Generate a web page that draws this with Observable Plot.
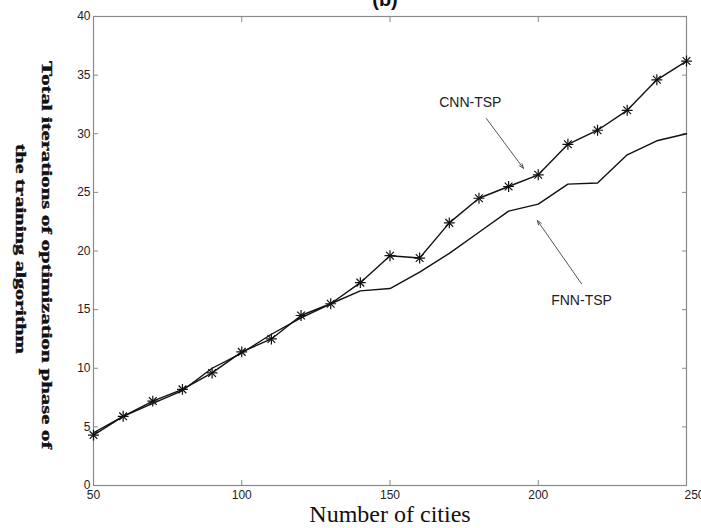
<!DOCTYPE html>
<html><head><meta charset="utf-8">
<script src="https://cdn.jsdelivr.net/npm/d3@7"></script>
<script src="https://cdn.jsdelivr.net/npm/@observablehq/plot@0.6"></script>
<style>body{margin:0;background:#fff;} svg{display:block}</style>
</head><body><div id="chart"></div>
<script>
const cities = [50,60,70,80,90,100,110,120,130,140,150,160,170,180,190,200,210,220,230,240,250];
const cnnTsp = [4.3,5.9,7.2,8.2,9.6,11.4,12.5,14.5,15.5,17.3,19.6,19.4,22.4,24.5,25.5,26.5,29.1,30.3,32.0,34.6,36.2];
const fnnTsp = [4.5,5.9,7.0,8.1,10.0,11.3,12.9,14.3,15.5,16.6,16.8,18.2,19.8,21.6,23.4,24.0,25.7,25.8,28.2,29.4,30.0];
const xTicks = [50,100,150,200,250];
const yTicks = [0,5,10,15,20,25,30,35,40];
const seriesNames = ["CNN-TSP","FNN-TSP"];
const labelX = [177.1, 214.6];
const labelY = [32.7, 15.8];
const arrowFromX = [182.5, 214.6];
const arrowFromY = [31.3, 17.2];
const arrowToX = [195.0, 199.7];
const arrowToY = [27.05, 22.6];
const yLabelLines = ["Total iterations of optimization phase of", "the training algorithm"];
const xLabel = "Number of cities";
const title = "(b)";

const cnnRows = cities.map((c, i) => ({x: c, y: cnnTsp[i]}));
const fnnRows = cities.map((c, i) => ({x: c, y: fnnTsp[i]}));
const notes = seriesNames.map((n, i) => ({name: n, x: labelX[i], y: labelY[i], x1: arrowFromX[i], y1: arrowFromY[i], x2: arrowToX[i], y2: arrowToY[i]}));

const frameColor = "#8a8a8a";
const serif = "'Liberation Serif', 'Times New Roman', serif";
const plot = Plot.plot({
  width: 701, height: 528,
  marginLeft: 93, marginRight: 15, marginTop: 16, marginBottom: 43,
  x: {domain: [50, 250]},
  y: {domain: [0, 40]},
  style: {fontFamily: "'Liberation Sans', Arial, sans-serif", fontSize: "12px", color: "#222", background: "#fff", overflow: "hidden"},
  marks: [
    Plot.frame({stroke: frameColor, strokeWidth: 1.2}),
    Plot.axisX({anchor: "bottom", ticks: xTicks, tickSize: -5, tickPadding: 10, label: null, stroke: frameColor, fill: "#222"}),
    Plot.axisX({anchor: "top", ticks: xTicks, tickSize: -5, tickFormat: () => "", label: null, stroke: frameColor}),
    Plot.axisY({anchor: "left", ticks: yTicks, tickSize: -5, tickPadding: 8, label: null, stroke: frameColor, fill: "#222"}),
    Plot.axisY({anchor: "right", ticks: yTicks, tickSize: -5, tickFormat: () => "", label: null, stroke: frameColor}),
    Plot.line(fnnRows, {x: "x", y: "y", stroke: "#111", strokeWidth: 1.4}),
    Plot.line(cnnRows, {x: "x", y: "y", stroke: "#111", strokeWidth: 1.4}),
    Plot.dot(cnnRows, {x: "x", y: "y", symbol: "plus", r: 3.6, stroke: "#111", strokeWidth: 1.2}),
    Plot.dot(cnnRows, {x: "x", y: "y", symbol: "times", r: 3.6, stroke: "#111", strokeWidth: 1.2}),
    Plot.arrow(notes, {x1: "x1", y1: "y1", x2: "x2", y2: "y2", stroke: "#555", strokeWidth: 1, headLength: 7, headAngle: 40}),
    Plot.text(notes, {x: "x", y: "y", text: "name", fontSize: 14, fill: "#222", fontFamily: "'Liberation Sans', Arial, sans-serif"}),
    Plot.text([title], {frameAnchor: "top", dx: -5, dy: -11, lineAnchor: "bottom", fontSize: 20, fontWeight: "bold", fill: "#111"}),
    Plot.text([xLabel], {frameAnchor: "bottom", dy: 29, lineAnchor: "middle", fontSize: 24, fontFamily: serif, fill: "#111"}),
    Plot.text([yLabelLines[0]], {frameAnchor: "left", textAnchor: "middle", lineAnchor: "middle", rotate: 90, dx: -47, dy: 4, fontSize: 23, fontWeight: "bold", fontFamily: serif, fill: "#111", stroke: "#111", strokeWidth: 0.6}),
    Plot.text([yLabelLines[1]], {frameAnchor: "left", textAnchor: "middle", lineAnchor: "middle", rotate: 90, dx: -73, dy: -2, fontSize: 23, fontWeight: "bold", fontFamily: serif, fill: "#111", stroke: "#111", strokeWidth: 0.6})
  ]
});
const lens = [388, 210];
d3.select(plot).selectAll("text").each(function() {
  const i = yLabelLines.indexOf(this.textContent);
  if (i >= 0) {
    this.setAttribute("textLength", lens[i]);
    this.setAttribute("lengthAdjust", "spacingAndGlyphs");
    const t = this.getAttribute("transform") || "";
    this.setAttribute("transform", t + " scale(1,0.64)");
  }
  if (this.textContent === String(xTicks[xTicks.length - 1]) && this.closest("g[aria-label='x-axis tick label']")) {
    this.setAttribute("text-anchor", "start");
    this.setAttribute("dx", "-2");
  }
});
document.getElementById("chart").appendChild(plot);
</script>
</body></html>
